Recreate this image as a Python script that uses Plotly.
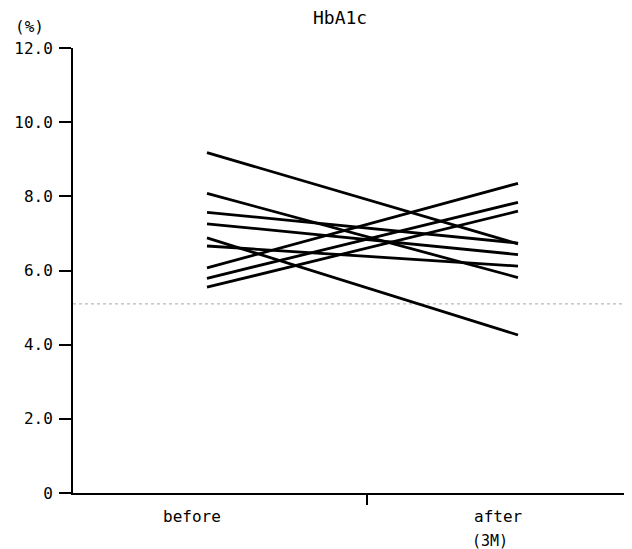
import plotly.graph_objects as go

# Data (HbA1c, %)
categories = ["before", "after"]
after_sub = "(3M)"
before_vals = [9.18, 8.08, 7.57, 7.26, 6.88, 6.66, 6.07, 5.79, 5.55]
after_vals = [6.72, 5.81, 6.74, 6.43, 4.26, 6.12, 8.35, 7.84, 7.60]
reference_level = 5.1
y_tick_vals = [0, 2, 4, 6, 8, 10, 12]
y_tick_text = ["0", "2.0", "4.0", "6.0", "8.0", "10.0", "12.0"]

FONT = "DejaVu Sans Mono, Liberation Mono, monospace"

fig = go.Figure()
xpos = [0, 1]
for b, a in zip(before_vals, after_vals):
    fig.add_trace(go.Scatter(
        x=xpos, y=[b, a], mode="lines",
        line=dict(color="black", width=2.8),
        showlegend=False, hoverinfo="skip",
    ))

# dotted reference line
fig.add_shape(type="line", xref="paper", x0=0, x1=1, yref="y",
              y0=reference_level, y1=reference_level,
              line=dict(color="#a8a8a8", width=1, dash="dot"), layer="below")

# page body adds an 8px margin, so the figure is 8px smaller and margins compensate
fig.update_layout(
    width=624, height=541,
    margin=dict(l=65, r=0, t=40, b=56),
    paper_bgcolor="white", plot_bgcolor="white",
    font=dict(family=FONT, color="black", size=15),
    xaxis=dict(
        range=[-0.4309, 1.3666],
        showgrid=False, zeroline=False,
        showline=True, linecolor="black", linewidth=2,
        tickvals=[0.514], ticktext=[""], ticks="outside",
        ticklen=10, tickwidth=2, tickcolor="black",
        fixedrange=True,
    ),
    yaxis=dict(
        range=[0, 12],
        showgrid=False, zeroline=False,
        showline=True, linecolor="black", linewidth=2,
        tickvals=y_tick_vals, ticktext=y_tick_text,
        ticks="outside", ticklen=12, tickwidth=2, tickcolor="black",
        ticklabelstandoff=3,
        tickfont=dict(family=FONT, size=16, color="black"),
        fixedrange=True,
    ),
    annotations=[
        dict(text="HbA1c", xref="paper", yref="paper", x=0.4776, y=1.0,
             xanchor="center", yanchor="middle",
             yshift=31, showarrow=False, font=dict(family=FONT, size=18)),
        dict(text="(%)", xref="paper", yref="paper", x=-0.077, y=1.0,
             xanchor="center", yanchor="middle",
             yshift=22, showarrow=False, font=dict(family=FONT, size=16)),
        dict(text=categories[0], x=-0.048, xref="x", yref="paper", y=0,
             xanchor="center", yanchor="middle",
             yshift=-23, showarrow=False, font=dict(family=FONT, size=16)),
        dict(text=categories[1], x=0.936, xref="x", yref="paper", y=0,
             xanchor="center", yanchor="middle",
             yshift=-23, showarrow=False, font=dict(family=FONT, size=16)),
        dict(text=after_sub, x=0.91, xref="x", yref="paper", y=0,
             xanchor="center", yanchor="middle",
             yshift=-48, showarrow=False, font=dict(family=FONT, size=15)),
    ],
)

fig.write_html("out.html")
